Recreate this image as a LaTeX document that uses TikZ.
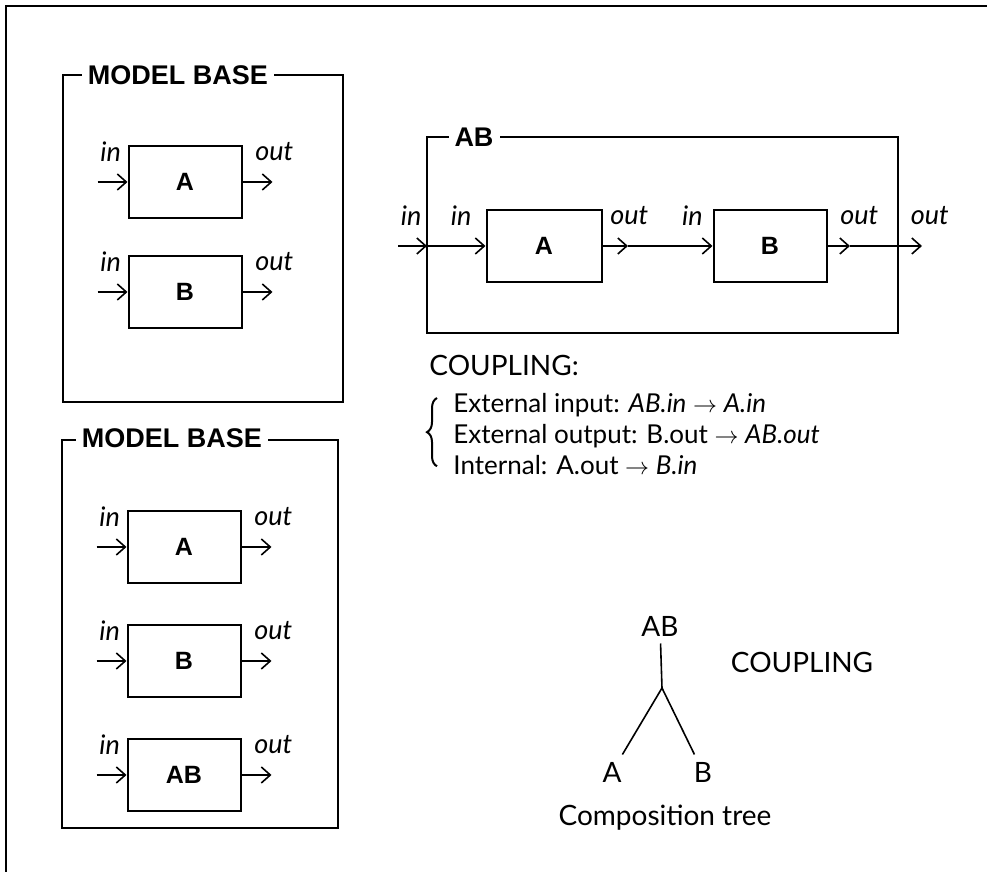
\documentclass[tikz,border=0pt]{standalone}
\usepackage{fontspec}
\setmainfont{Lato}
\newfontfamily\headfont{Liberation Sans}
\usetikzlibrary{positioning, arrows.meta, decorations.pathreplacing}

\tikzset{
  model/.style={draw, line width=1pt, minimum width=56.5pt, minimum height=36pt,
    font=\headfont\bfseries\fontsize{12.5}{14}\selectfont},
  frametitle/.style={fill=white, inner sep=3pt,
    font=\headfont\bfseries\fontsize{13.5}{15}\selectfont},
  port/.style={inner sep=1pt, font=\itshape\fontsize{13.5}{15}\selectfont},
  plain/.style={font=\fontsize{14}{16}\selectfont},
}

% in and out ports of a model box
\newcommand{\ports}[1]{%
  \coordinate (#1in) at ([xshift=-15pt]#1.west);
  \coordinate (#1out) at ([xshift=15pt]#1.east);
  \draw[->] (#1in) -- (#1.west);
  \draw[->] (#1.east) -- (#1out);
  \node[port, anchor=south west] (#1inl) at ([yshift=9pt]#1in) {in};
  \node[port, anchor=south west] (#1outl) at ([xshift=5pt,yshift=9pt]#1.east) {out};
}

\begin{document}
\begin{tikzpicture}[x=0.5pt, y=-0.5pt, > = {Straight Barb[length=4.5pt, width=8pt]}, line width=0.8pt]
    \path[fill=white] (0,0) rectangle (987,876);
    \useasboundingbox (0,0) rectangle (987,876);
    \draw[line width=1.2pt] (987,6) -- (6,6) -- (6,872);

    % first model base
    \draw[line width=1.2pt] (63,75) rectangle (343,402);
    \node[frametitle] (mb1) at (178,75) {MODEL BASE};
    \node[model] (A1) at (185,182) {A};
    \node[model, below=18pt of A1] (B1) {B};
    \ports{A1}
    \ports{B1}

    % second model base
    \draw[line width=1.2pt] (62,440) rectangle (338,828);
    \node[frametitle] (mb2) at (172,438) {MODEL BASE};
    \node[model] (A2) at (184,547) {A};
    \node[model, below=20pt of A2] (B2) {B};
    \node[model, below=20pt of B2] (AB2) {AB};
    \ports{A2}
    \ports{B2}
    \ports{AB2}

    % coupled model AB
    \draw[line width=1.2pt] (427,137) rectangle (898,333);
    \node[frametitle] (ab) at (474,137) {AB};
    \node[model, minimum width=57.5pt] (A3) at (544,246) {A};
    \node[model, right=55pt of A3] (B3) {B};
    \coordinate (ABin) at (398,246);
    \coordinate (ABinp) at (427,246);
    \coordinate (Aoutp) at (628,246);
    \coordinate (Boutp) at (850,246);
    \coordinate (ABoutp) at (898,246);
    \coordinate (ABout) at (922,246);
    \draw[->] (ABin) -- (ABinp);
    \draw[->] (ABinp) -- (A3.west);
    \draw[->] (A3.east) -- (Aoutp);
    \draw[->] (Aoutp) -- (B3.west);
    \draw[->] (B3.east) -- (Boutp);
    \draw[->] (Boutp) -- (ABout);
    \node[port, anchor=south west] (extinl) at ([yshift=9pt]ABin) {in};
    \node[port, anchor=south west] (A3inl) at ([xshift=10.5pt,yshift=9pt]ABinp) {in};
    \node[port, anchor=south west] (A3outl) at ([xshift=2.5pt,yshift=9pt]A3.east) {out};
    \node[port, anchor=south east] (B3inl) at ([xshift=-3.5pt,yshift=9pt]B3.west) {in};
    \node[port, anchor=south west] (B3outl) at ([xshift=5pt,yshift=9pt]B3.east) {out};
    \node[port, anchor=south west] (extoutl) at ([xshift=5pt,yshift=9pt]ABoutp) {out};

    % coupling
    \node[plain, anchor=west] (cpl) at (422,365) {COUPLING:};
    \node[anchor=north west, align=left, font=\fontsize{13}{15.5}\selectfont] (clist) at (446,386)
      {External input: \textit{AB.in} $\to$ \textit{A.in}\\
       External output: B.out $\to$ \textit{AB.out}\\
       Internal: A.out $\to$ \textit{B.in}};
    \draw[decorate, decoration={brace, amplitude=5pt}, line width=1pt]
      ([xshift=-4.5pt,yshift=8pt]clist.south west) -- ([xshift=-4.5pt,yshift=-6pt]clist.north west);

    % composition tree
    \node[plain] (tAB) at (660,626) {AB};
    \coordinate (fork) at (662,688);
    \node[plain] (tA) at (612,772) {A};
    \node[plain] (tB) at (703,772) {B};
    \draw (tAB) -- (fork);
    \draw (fork) -- (tA);
    \draw (fork) -- (tB);
    \node[plain] (cplt) at (802,662) {COUPLING};
    \node[plain] (ctree) at (665,818) {Composition tree};
\end{tikzpicture}
\end{document}
